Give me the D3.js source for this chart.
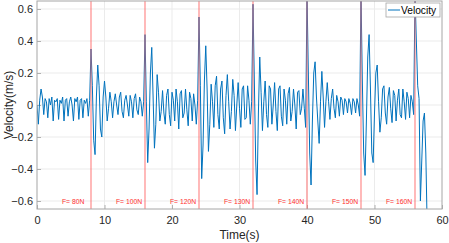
<!DOCTYPE html>
<html>
<head>
<meta charset="utf-8">
<script src="https://cdn.jsdelivr.net/npm/d3@7"></script>
<style>
  body { margin: 0; background: #fff; }
  svg { display: block; font-family: "Liberation Sans", Arial, sans-serif; }
</style>
</head>
<body>
<svg id="chart" width="449" height="243"></svg>
<script>
// sample interval of the velocity record (s)
const dt = 0.2;

// force steps: start time and label
const forceTimes = [8, 16, 24, 32, 40, 48, 56];
const forceLabels = ["F= 80N", "F= 100N", "F= 120N", "F= 130N", "F= 140N", "F= 150N", "F= 160N"];
const segStarts = [0, 8, 16, 24, 32, 40, 48, 56];

// velocity (m/s), one array per force step, sampled every dt
const vel80 = [0.0, -0.12, 0.03, 0.1, 0.05, -0.06, 0.04, 0.02, -0.08, 0.04,
  0.0, 0.05, -0.1, 0.03, 0.02, 0.04, -0.09, 0.03, 0.01, 0.05,
  -0.1, 0.03, 0.04, -0.07, 0.02, 0.05, 0.0, -0.1, 0.04, 0.02,
  0.05, -0.09, 0.03, 0.04, -0.08, 0.03, 0.01, 0.04, -0.07, 0.03];
const vel100 = [0.35, 0.12, -0.22, -0.31, 0.05, 0.25, 0.12, -0.15, -0.2, 0.05,
  0.15, 0.05, -0.1, -0.02, 0.08, 0.02, -0.08, 0.02, 0.07, 0.0,
  -0.06, 0.05, 0.08, -0.04, -0.08, 0.03, 0.06, 0.0, -0.07, 0.06,
  0.02, -0.08, 0.04, 0.07, -0.03, -0.06, 0.05, 0.02, -0.07, 0.02];
const vel120 = [0.44, 0.02, -0.36, -0.15, 0.2, 0.36, 0.05, -0.27, -0.12, 0.19,
  0.08, -0.1, -0.04, 0.09, -0.05, -0.12, 0.06, 0.1, -0.06, -0.13,
  0.08, 0.03, -0.1, 0.1, 0.02, -0.15, 0.07, 0.09, -0.08, -0.05,
  0.1, -0.03, -0.13, 0.08, 0.04, -0.1, 0.07, 0.0, -0.12, 0.03];
const vel130 = [0.55, 0.12, -0.46, -0.25, 0.15, 0.37, 0.1, -0.29, -0.12, 0.13,
  0.02, -0.14, 0.12, 0.18, -0.06, -0.15, 0.1, 0.15, -0.08, -0.18,
  0.06, 0.19, 0.02, -0.15, -0.04, 0.16, 0.06, -0.16, 0.0, 0.14,
  -0.02, -0.14, 0.1, 0.12, -0.09, -0.08, 0.12, 0.03, -0.12, 0.02];
const vel140 = [0.63, 0.15, -0.35, -0.56, -0.05, 0.3, 0.08, -0.16, 0.02, 0.15,
  -0.06, -0.14, 0.12, 0.1, -0.12, 0.0, 0.14, -0.04, -0.16, 0.1,
  0.12, -0.07, -0.13, 0.1, 0.03, -0.12, 0.07, 0.11, -0.1, -0.04,
  0.1, 0.0, -0.15, 0.08, 0.09, -0.06, -0.02, 0.1, -0.02, -0.14];
const vel150 = [0.7, 0.2, -0.3, -0.5, -0.1, 0.2, 0.27, 0.05, -0.1, -0.24,
  0.02, 0.21, 0.05, -0.14, 0.02, 0.14, 0.02, -0.09, 0.04, 0.1,
  -0.02, -0.08, 0.06, 0.02, -0.07, 0.05, 0.03, -0.06, 0.04, 0.02,
  -0.05, 0.04, 0.01, -0.06, 0.04, 0.02, -0.05, 0.04, 0.0, -0.07];
const vel160 = [0.7, 0.15, -0.3, -0.44, -0.1, 0.3, 0.44, 0.1, -0.3, -0.36,
  -0.05, 0.2, 0.25, 0.02, -0.17, -0.08, 0.1, 0.12, -0.05, -0.12,
  0.05, 0.11, -0.02, -0.11, 0.09, 0.06, -0.1, 0.03, 0.1, -0.06,
  -0.08, 0.1, 0.02, -0.09, 0.08, 0.04, -0.08, 0.06, 0.02, -0.06];
const velEnd = [0.7, 0.4, 0.12, 0.04, -0.6, -0.35, -0.1, -0.05, -0.3, -0.75];

const xTicks = [0, 10, 20, 30, 40, 50, 60];
const yTicks = [-0.6, -0.4, -0.2, 0, 0.2, 0.4, 0.6];

const margin = {top: 1, right: 7, bottom: 34, left: 37};
const chart = d3.select("#chart");
const W = 449, H = 243;
const innerWidth = W - margin.left - margin.right;
const innerHeight = H - margin.top - margin.bottom;

// build the series from the segments
const segments = [vel80, vel100, vel120, vel130, vel140, vel150, vel160, velEnd];
let data = [];
segments.forEach((seg, k) => {
  seg.forEach((v, i) => data.push({t: segStarts[k] + i * dt, v: v}));
});

const xScale = d3.scaleLinear().domain([0, 60]).range([0, innerWidth]);
const yScale = d3.scaleLinear().domain([-0.65, 0.65]).range([innerHeight, 0]);

const g = chart.append("g")
  .attr("transform", `translate(${margin.left},${margin.top})`);

g.append("defs").append("clipPath").attr("id", "clip")
  .append("rect").attr("width", innerWidth).attr("height", innerHeight);

// grid
g.append("g").selectAll("line").data(xTicks.slice(1, -1)).enter().append("line")
  .attr("x1", d => xScale(d)).attr("x2", d => xScale(d))
  .attr("y1", 0).attr("y2", innerHeight)
  .attr("stroke", "#ebebeb").attr("stroke-width", 1);
g.append("g").selectAll("line").data(yTicks).enter().append("line")
  .attr("y1", d => yScale(d)).attr("y2", d => yScale(d))
  .attr("x1", 0).attr("x2", innerWidth)
  .attr("stroke", "#ebebeb").attr("stroke-width", 1);

// axes
const xAxis = d3.axisBottom(xScale).tickValues(xTicks).tickSize(-4).tickPadding(7)
  .tickFormat(d3.format("d"));
const xAxisG = g.append("g").call(xAxis).attr("transform", `translate(0,${innerHeight})`);
const yAxis = d3.axisLeft(yScale).tickValues(yTicks).tickSize(-4).tickPadding(4)
  .tickFormat(d => d === 0 ? "0" : d3.format(".1f")(d));
const yAxisG = g.append("g").call(yAxis);
[xAxisG, yAxisG].forEach(a => {
  a.select(".domain").remove();
  a.selectAll("line").attr("stroke", "#b0b0b0");
  a.selectAll("text").attr("fill", "#262626").attr("font-size", "11px")
    .attr("font-family", "Liberation Sans, Arial, sans-serif");
});

// velocity trace
g.append("path").datum(data)
  .attr("clip-path", "url(#clip)")
  .attr("fill", "none")
  .attr("stroke", "#0072BD")
  .attr("stroke-width", 1)
  .attr("stroke-linejoin", "round")
  .attr("d", d3.line().x(d => xScale(d.t)).y(d => yScale(d.v)));

// force step markers
g.append("g").selectAll("line").data(forceTimes).enter().append("line")
  .attr("x1", d => xScale(d)).attr("x2", d => xScale(d))
  .attr("y1", 0).attr("y2", innerHeight)
  .attr("stroke", "#ff5a5a").attr("stroke-opacity", 0.7).attr("stroke-width", 1.2);

g.append("g").selectAll("text").data(forceLabels).enter().append("text")
  .text(d => d)
  .attr("x", (d, i) => xScale(segStarts[i] + 3.7))
  .attr("y", yScale(-0.617))
  .attr("fill", "#ff3030")
  .attr("font-size", "6.8px");

// box
g.append("rect").attr("width", innerWidth).attr("height", innerHeight)
  .attr("fill", "none").attr("stroke", "#a6a6a6").attr("stroke-width", 1);

// axis titles
g.append("text").text("Time(s)")
  .attr("x", innerWidth / 2).attr("y", innerHeight + 30)
  .attr("text-anchor", "middle").attr("fill", "#262626").attr("font-size", "12px");
g.append("text").text("Velocity(m/s)")
  .attr("transform", `translate(-24.5,${innerHeight / 2}) rotate(-90)`)
  .attr("text-anchor", "middle").attr("fill", "#262626").attr("font-size", "12px");

// legend
const lg = g.append("g").attr("transform", `translate(${innerWidth - 56},2)`);
lg.append("rect").attr("width", 54).attr("height", 14)
  .attr("fill", "#fff").attr("stroke", "#a6a6a6").attr("stroke-width", 0.8);
lg.append("line").attr("x1", 2).attr("x2", 14).attr("y1", 7).attr("y2", 7)
  .attr("stroke", "#0072BD").attr("stroke-width", 1);
lg.append("text").text("Velocity").attr("x", 15).attr("y", 11)
  .attr("fill", "#000").attr("font-size", "10.2px");
</script>
</body>
</html>
